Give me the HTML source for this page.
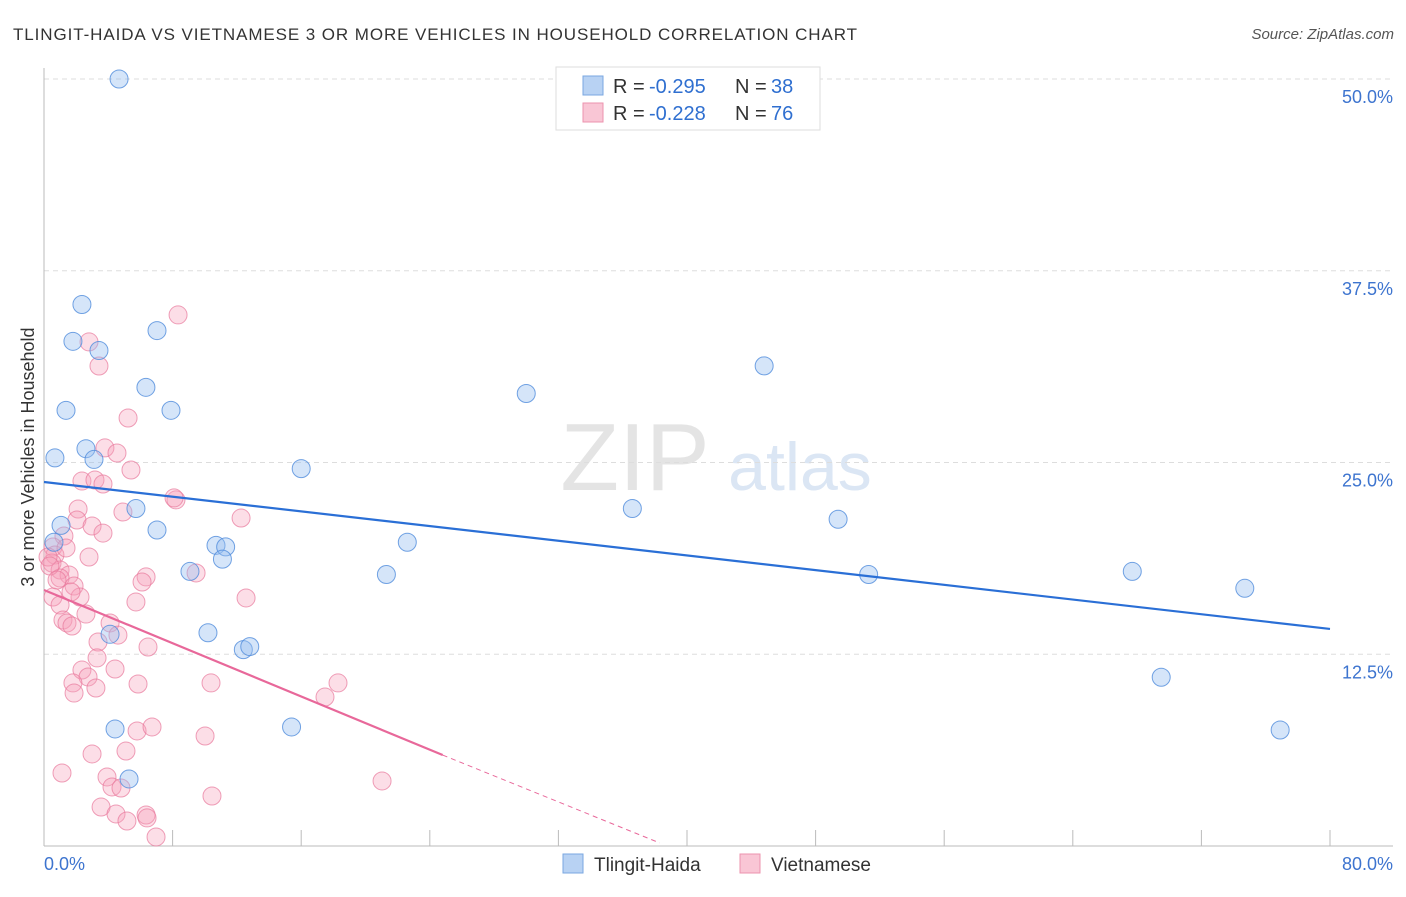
<!DOCTYPE html>
<html><head><meta charset="utf-8"><style>
body{margin:0;background:#fff;font-family:"Liberation Sans",sans-serif}
svg text{font-family:"Liberation Sans",sans-serif}
</style></head><body>
<svg width="1406" height="892" id="c">
<text x="13" y="40" font-size="17" fill="#333" textLength="844">TLINGIT-HAIDA VS VIETNAMESE 3 OR MORE VEHICLES IN HOUSEHOLD CORRELATION CHART</text>
<text x="1394" y="39" font-size="15" fill="#555" text-anchor="end" font-style="italic">Source: ZipAtlas.com</text>
<text x="635" y="490" font-size="96" fill="#e4e4e4" font-family="Liberation Serif" text-anchor="middle">ZIP</text>
<text x="800" y="490" font-size="68" fill="#dbe6f4" text-anchor="middle">atlas</text>
<text transform="translate(34,457) rotate(-90)" font-size="18" fill="#333" text-anchor="middle">3 or more Vehicles in Household</text>
<g id="grid"></g><g id="pts"></g><g id="lines"></g>
<g>
<rect x="556" y="67" width="264" height="63" fill="#fff" stroke="#ddd"/>
<rect x="583" y="76" width="20" height="19" fill="#b8d2f3" stroke="#7aa7e0"/>
<rect x="583" y="103" width="20" height="19" fill="#f9c6d5" stroke="#ec93ae"/>
<text x="613" y="93" font-size="20" fill="#333">R =</text>
<text x="649" y="93" font-size="20" fill="#2f6fd0">-0.295</text>
<text x="735" y="93" font-size="20" fill="#333">N =</text>
<text x="771" y="93" font-size="20" fill="#2f6fd0">38</text>
<text x="613" y="120" font-size="20" fill="#333">R =</text>
<text x="649" y="120" font-size="20" fill="#2f6fd0">-0.228</text>
<text x="735" y="120" font-size="20" fill="#333">N =</text>
<text x="771" y="120" font-size="20" fill="#2f6fd0">76</text>
</g>
<g>
<rect x="563" y="854" width="20" height="19" fill="#b8d2f3" stroke="#7aa7e0"/>
<text x="594" y="871" font-size="19" fill="#333">Tlingit-Haida</text>
<rect x="740" y="854" width="20" height="19" fill="#f9c6d5" stroke="#ec93ae"/>
<text x="771" y="871" font-size="19" fill="#333">Vietnamese</text>
</g>
</svg>
<script>
const yTicks=[12.5,25,37.5,50];
const yTickLabels=["12.5%","25.0%","37.5%","50.0%"];
const xTicks=[8,16,24,32,40,48,56,64,72,80];
const blueX=[4.67,2.36,1.80,3.42,7.03,6.34,7.90,1.37,0.68,2.61,3.11,5.72,1.06,7.03,0.62,10.7,11.3,11.1,9.08,10.2,4.11,12.4,12.8,4.42,5.29,15.4,16.0,21.3,22.6,30.0,36.6,44.8,49.4,51.3,67.7,69.5,74.7,76.9];
const blueY=[50.0,35.3,32.9,32.3,33.6,29.9,28.4,28.4,25.3,25.9,25.2,22.0,20.9,20.6,19.8,19.6,19.5,18.7,17.9,13.9,13.8,12.8,13.0,7.63,4.37,7.76,24.6,17.7,19.8,29.5,22.0,31.3,21.3,17.7,17.9,11.0,16.8,7.56];
const pinkPx=[[105,448],[117,453],[131,470],[82,481],[95,480],[103,484],[176,500],[78,509],[77,520],[123,512],[92,526],[103,533],[64,536],[241,518],[53,547],[55,555],[52,563],[89,557],[60,570],[69,575],[60,578],[74,586],[80,597],[53,597],[60,605],[146,577],[142,582],[196,573],[246,598],[136,602],[86,614],[63,620],[67,623],[72,626],[110,623],[118,635],[98,642],[148,647],[97,658],[115,669],[82,670],[88,677],[73,683],[74,693],[96,688],[138,684],[211,683],[137,731],[152,727],[205,736],[126,751],[92,754],[62,773],[107,777],[112,787],[121,788],[212,796],[101,807],[116,814],[127,821],[146,815],[147,818],[156,837],[178,315],[89,342],[99,366],[128,418],[174,498],[338,683],[325,697],[382,781],[48,557],[50,566],[57,580],[66,548],[71,592]];
const pinkX=pinkPx.map(p=>+((p[0]-44)*80/1286).toFixed(2));
const pinkY=pinkPx.map(p=>+((846-p[1])/15.34).toFixed(2));
const blueLine=[[0,23.73],[80,14.15]];
const pinkLine=[[0,16.69],[24.8,5.93]];
const pinkDash=[[24.8,5.93],[38.3,0.2]];
const X=v=>44+v*1286/80, Y=v=>846-v*15.34;
const NS="http://www.w3.org/2000/svg";
function mk(t,a,parent){const e=document.createElementNS(NS,t);for(const k in a)e.setAttribute(k,a[k]);document.getElementById(parent).appendChild(e);return e;}
yTicks.forEach((t,i)=>{
 let l=mk('line',{x1:44,x2:1393,y1:Y(t),y2:Y(t),stroke:'#ddd','stroke-dasharray':'5,4'},'grid');
 
 
 let tx=mk('text',{x:1393,y:Y(t)+24,'font-size':18,fill:'#3d74cf','text-anchor':'end'},'grid');tx.textContent=yTickLabels[i];
 
 
});
let ax=mk('line',{x1:44,x2:44,y1:68,y2:846,stroke:'#bbb'},'grid');


let bx=mk('line',{x1:44,x2:1393,y1:846,y2:846,stroke:'#bbb'},'grid');


xTicks.forEach(t=>{let l=mk('line',{x1:X(t),x2:X(t),y1:830,y2:846,stroke:'#bbb'},'grid');
 
 });
let x0=mk('text',{x:44,y:870,'font-size':18,fill:'#3d74cf'},'grid');x0.textContent='0.0%';


let x1=mk('text',{x:1393,y:870,'font-size':18,fill:'#3d74cf','text-anchor':'end'},'grid');x1.textContent='80.0%';


pinkX.forEach((v,i)=>{let c=mk('circle',{cx:X(v),cy:Y(pinkY[i]),r:9,fill:'rgba(245,160,185,0.35)',stroke:'rgba(232,120,155,0.7)','stroke-width':1},'pts');
 
 });
blueX.forEach((v,i)=>{let c=mk('circle',{cx:X(v),cy:Y(blueY[i]),r:9,fill:'rgba(150,190,240,0.4)',stroke:'rgba(80,140,220,0.8)','stroke-width':1},'pts');
 
 });
let bl=mk('line',{x1:X(blueLine[0][0]),y1:Y(blueLine[0][1]),x2:X(blueLine[1][0]),y2:Y(blueLine[1][1]),stroke:'#2a6fd6','stroke-width':2.2},'lines');


let pl=mk('line',{x1:X(pinkLine[0][0]),y1:Y(pinkLine[0][1]),x2:X(pinkLine[1][0]),y2:Y(pinkLine[1][1]),stroke:'#e8689a','stroke-width':2.2},'lines');


let pd=mk('line',{x1:X(pinkDash[0][0]),y1:Y(pinkDash[0][1]),x2:X(pinkDash[1][0]),y2:Y(pinkDash[1][1]),stroke:'#e8689a','stroke-width':1,'stroke-dasharray':'5,4'},'lines');


</script>
</body></html>
